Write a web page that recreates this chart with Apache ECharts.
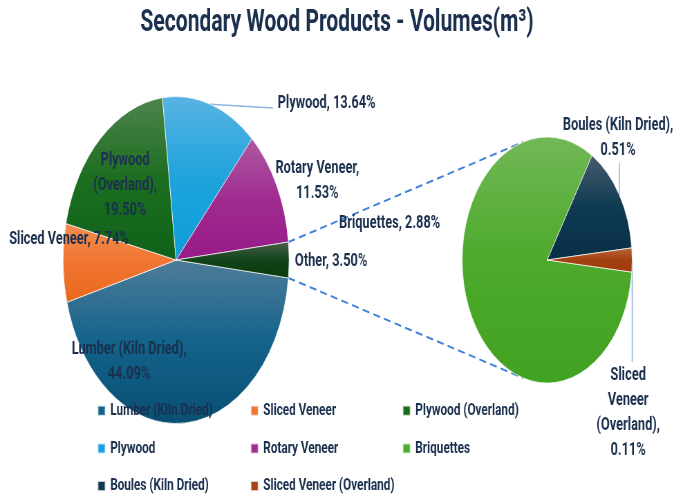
<!DOCTYPE html>
<html>
<head>
<meta charset="utf-8">
<script src="https://cdn.jsdelivr.net/npm/echarts@6/dist/echarts.min.js"></script>
<style>
html, body { margin: 0; padding: 0; background: #ffffff; overflow: hidden; width: 674px; height: 497px; }
#chart { width: 975px; height: 497px; transform: scaleX(0.691282); transform-origin: 0 0; }
</style>
</head>
<body>
<div id="chart"></div>
<script>
// ---------------- data ----------------
const mainCategories = ['Lumber (Kiln Dried)', 'Sliced Veneer', 'Plywood (Overland)', 'Plywood', 'Rotary Veneer', 'Other'];
const mainValues = [44.09, 7.74, 19.50, 13.64, 11.53, 3.50];
const subCategories = ['Briquettes', 'Boules (Kiln Dried)', 'Sliced Veneer (Overland)'];
const subValues = [2.88, 0.51, 0.11];
const legendColumns = [
  ['Lumber (Kiln Dried)', 'Plywood', 'Boules (Kiln Dried)'],
  ['Sliced Veneer', 'Rotary Veneer', 'Sliced Veneer (Overland)'],
  ['Plywood (Overland)', 'Briquettes']
];
const titleText = 'Secondary Wood Products - Volumes(m³)';
const mainLabelNames = ['Lumber (Kiln Dried),\n', 'Sliced Veneer, ', 'Plywood\n(Overland),\n', 'Plywood, ', 'Rotary Veneer,\n', 'Other, '];
const subLabelNames = ['Briquettes, ', 'Boules (Kiln Dried),\n', 'Sliced\nVeneer\n(Overland),\n'];

// ---------------- layout / style ----------------
const TEXT = '#1B304E';
const MAIN = { cx: 254.7, cy: 260, r: 163.5 };
const SUB = { cx: 791.5, cy: 260, r: 123 };
const mainColors = [
  ['#4F7C99', '#13638B', '#0A4F73'],
  ['#F48E52', '#F07531', '#EB681D'],
  ['#4E844D', '#1C6E20', '#10621A'],
  ['#5AB3E3', '#1EA4DC', '#0E9CD8'],
  ['#AD5AA3', '#A02C90', '#971A88'],
  ['#48614A', '#13431A', '#093C0B']
];
const subColors = [
  ['#72B857', '#4DAA2C', '#42A221'],
  ['#475C6D', '#0F3A52', '#083046'],
  ['#B9683F', '#A4400F', '#A03A0A']
];
const legendColor = {
  'Lumber (Kiln Dried)': '#17628A', 'Sliced Veneer': '#F07733', 'Plywood (Overland)': '#1B6B1F',
  'Plywood': '#1BA2DC', 'Rotary Veneer': '#A02E90', 'Briquettes': '#4DAA2E',
  'Boules (Kiln Dried)': '#123A50', 'Sliced Veneer (Overland)': '#A84516'
};
const mainLabelPos = [[186.7, 362], [99.8, 239], [181, 185], [472.4, 103], [459, 180.5], [479, 261]];
const subLabelPos = [[563.6, 223], [894, 137.5], [908.7, 413]];

function grad(stops) {
  return { type: 'linear', x: 0, y: 0, x2: 0, y2: 1,
    colorStops: stops.map((c, i) => ({ offset: i / (stops.length - 1), color: c })) };
}
const sum = a => a.reduce((s, v) => s + v, 0);
const mainTotal = sum(mainValues);
const subTotal = sum(subValues);
// Last slice centred on the 3 o'clock direction (pie-of-pie layout)
const mainStart = -mainValues[mainValues.length - 1] / mainTotal * 180;
const subStart = -subValues[subValues.length - 1] / subTotal * 180;

function sliceAngles(values, start, i) {
  const tot = sum(values);
  const before = sum(values.slice(0, i));
  const a0 = start - before / tot * 360;
  const a1 = a0 - values[i] / tot * 360;
  return { a0, a1, mid: (a0 + a1) / 2 };
}
function pt(c, deg, r) {
  const t = deg * Math.PI / 180;
  const rr = r === undefined ? c.r : r;
  return [c.cx + rr * Math.cos(t), c.cy - rr * Math.sin(t)];
}
function tangent(p, c, upper) {
  const dx = p[0] - c.cx, dy = c.cy - p[1];
  const d = Math.hypot(dx, dy);
  const phi = Math.atan2(dy, dx);
  const alpha = Math.acos(c.r / d);
  const t = upper ? phi - alpha : phi + alpha;
  return [c.cx + c.r * Math.cos(t), c.cy - c.r * Math.sin(t)];
}

const labelFont = { fontFamily: 'Roboto', fontWeight: 'bold', fontSize: 18.5, lineHeight: 25, color: TEXT };

const otherIdx = mainValues.length - 1;
const otherAng = sliceAngles(mainValues, mainStart, otherIdx);
const pUp = pt(MAIN, otherAng.a0);
const pLo = pt(MAIN, otherAng.a1);
const tUp = tangent(pUp, SUB, true);
const tLo = tangent(pLo, SUB, false);

const plyMid = pt(MAIN, sliceAngles(mainValues, mainStart, 3).mid);
const boulesMid = pt(SUB, sliceAngles(subValues, subStart, 1).mid);
const svoMid = pt(SUB, sliceAngles(subValues, subStart, 2).mid);

const dashStyle = { stroke: '#3F80D8', lineWidth: 2, lineDash: [10, 6] };
const leaderStyle = { stroke: '#8DB4E2', lineWidth: 1.5 };

const legendCommon = {
  orient: 'vertical', top: 400.7, padding: 0, itemWidth: 11, itemHeight: 10, itemGap: 17.7,
  icon: 'rect', selectedMode: false,
  textStyle: { fontFamily: 'Roboto', fontWeight: 'bold', fontSize: 17, lineHeight: 20, color: TEXT, padding: [0, 0, 0, 2] }
};
const legendLefts = [140.4, 361.8, 581.7];

const option = {
  animation: false,
  backgroundColor: '#ffffff',
  title: {
    text: titleText, left: 'center', top: 5, padding: 0,
    textStyle: { fontFamily: 'Roboto', fontWeight: 'bold', fontSize: 30.5, lineHeight: 36, color: TEXT }
  },
  legend: legendColumns.map((col, i) => Object.assign({}, legendCommon, {
    left: legendLefts[i],
    data: col.map(n => ({ name: n, itemStyle: { color: legendColor[n] } }))
  })),
  graphic: [
    { type: 'line', z: 1, shape: { x1: pUp[0], y1: pUp[1], x2: tUp[0], y2: tUp[1] }, style: dashStyle, silent: true },
    { type: 'line', z: 1, shape: { x1: pLo[0], y1: pLo[1], x2: tLo[0], y2: tLo[1] }, style: dashStyle, silent: true },
    { type: 'polyline', z: 1, shape: { points: [plyMid, [395, 108]] }, style: Object.assign({ fill: null }, leaderStyle), silent: true },
    { type: 'line', z: 1, shape: { x1: boulesMid[0], y1: boulesMid[1], x2: boulesMid[0], y2: 163 }, style: leaderStyle, silent: true },
    { type: 'line', z: 1, shape: { x1: svoMid[0], y1: svoMid[1], x2: svoMid[0], y2: 362 }, style: leaderStyle, silent: true }
  ],
  series: [
    {
      type: 'pie', silent: true, center: [MAIN.cx, MAIN.cy], radius: MAIN.r,
      startAngle: mainStart, clockwise: true, avoidLabelOverlap: false,
      emphasis: { disabled: true },
      itemStyle: { borderColor: 'rgba(255,255,255,0.7)', borderWidth: 1 },
      label: Object.assign({ show: true, position: 'inside',
        formatter: p => mainLabelNames[p.dataIndex] + p.value.toFixed(2) + '%' }, labelFont),
      labelLine: { show: false },
      labelLayout: p => ({ x: mainLabelPos[p.dataIndex][0], y: mainLabelPos[p.dataIndex][1] }),
      data: mainCategories.map((n, i) => ({ name: n, value: mainValues[i], itemStyle: { color: grad(mainColors[i]) } }))
    },
    {
      type: 'pie', silent: true, center: [SUB.cx, SUB.cy], radius: SUB.r,
      startAngle: subStart, clockwise: true, avoidLabelOverlap: false,
      emphasis: { disabled: true },
      itemStyle: { borderColor: 'rgba(255,255,255,0.7)', borderWidth: 1 },
      label: Object.assign({ show: true, position: 'inside',
        formatter: p => subLabelNames[p.dataIndex] + p.value.toFixed(2) + '%' }, labelFont),
      labelLine: { show: false },
      labelLayout: p => ({ x: subLabelPos[p.dataIndex][0], y: subLabelPos[p.dataIndex][1] }),
      data: subCategories.map((n, i) => ({ name: n, value: subValues[i], itemStyle: { color: grad(subColors[i]) } }))
    }
  ]
};

const chart = echarts.init(document.getElementById('chart'), null, { renderer: 'canvas', devicePixelRatio: 1 });
chart.setOption(option);
</script>
</body>
</html>
